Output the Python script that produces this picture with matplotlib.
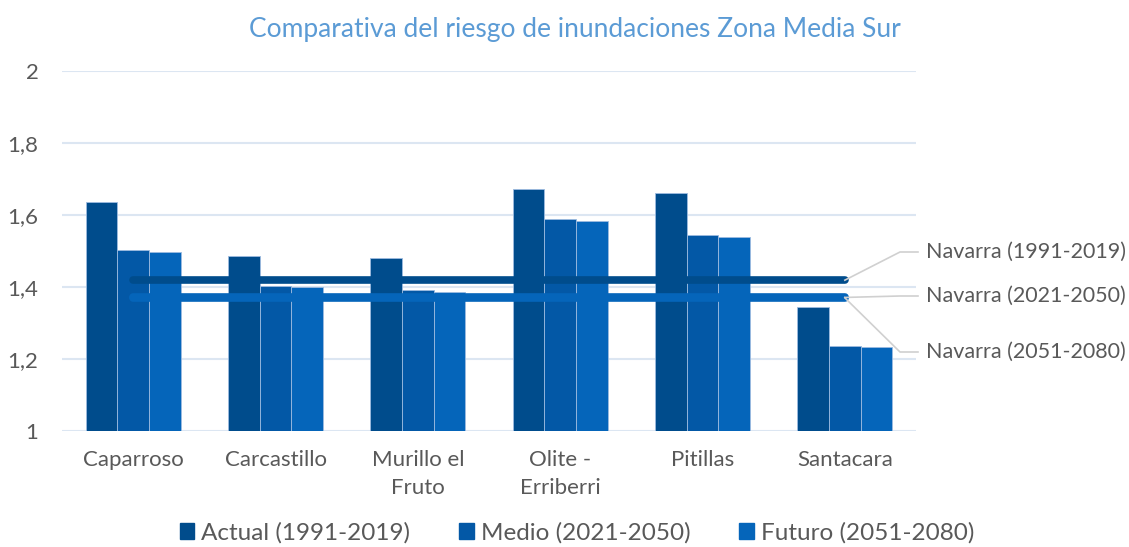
import numpy as np
import matplotlib
matplotlib.use("Agg")
from matplotlib import pyplot as plt
from matplotlib.lines import Line2D

plt.rcParams['font.family'] = ['Lato', 'DejaVu Sans']

municipios = ['Caparroso', 'Carcastillo', 'Murillo el\nFruto', 'Olite -\nErriberri', 'Pitillas', 'Santacara']
actual = [1.636, 1.487, 1.480, 1.672, 1.660, 1.344]
medio = [1.503, 1.403, 1.392, 1.588, 1.544, 1.236]
futuro = [1.497, 1.399, 1.386, 1.584, 1.539, 1.233]
navarra_actual = 1.419
navarra_medio = 1.371
navarra_futuro = 1.370

series_names = ['Actual (1991-2019)', 'Medio (2021-2050)', 'Futuro (2051-2080)']
colores = ['#004C8C', '#0358A6', '#0565BA']
gris = '#595959'
W, H = 1129, 547

fig = plt.figure(figsize=(W/100, H/100), dpi=100)
ax = fig.add_axes([62/W, 1-431/H, 854/W, 360/H])

x = np.arange(len(municipios))
w = 0.222
for i, vals in enumerate([actual, medio, futuro]):
    ax.bar(x + (i-1)*w, np.array(vals) - 1, width=w, bottom=1, color=colores[i],
           edgecolor='#9dbbe0', linewidth=0.6, zorder=2)

ax.set_ylim(1, 2)
ax.set_xlim(-0.5, len(x) - 0.5)

# lineas de referencia Navarra
nav = [(navarra_futuro, '#0565BA', 'Navarra (2051-2080)', 352),
       (navarra_medio, '#0565BA', 'Navarra (2021-2050)', 296),
       (navarra_actual, '#004C8C', 'Navarra (1991-2019)', 252)]
for val, c, lab, ytxt in nav:
    ax.plot(x, [val]*len(x), color=c, lw=5.5, solid_capstyle='round', zorder=3)
    # etiqueta con linea guia
    x0, y0 = ax.transData.transform((x[-1], val))
    fx0, fy0 = x0/W, y0/H
    fy1 = 1 - ytxt/H
    fig.add_artist(Line2D([fx0, 900/W, 918/W], [fy0, fy1, fy1],
                          color='#d0d0d0', lw=1.2, transform=fig.transFigure, zorder=1))
    fig.text(926/W, fy1, lab, ha='left', va='center', fontsize=15.5, color=gris)

ax.set_yticks([1, 1.2, 1.4, 1.6, 1.8, 2])
ax.set_yticklabels(['1', '1,2', '1,4', '1,6', '1,8', '2'])
ax.set_xticks(x)
ax.set_xticklabels(municipios, linespacing=1.45)
ax.tick_params(axis='both', length=0, labelsize=16, colors=gris)
ax.tick_params(axis='y', pad=17)
ax.tick_params(axis='x', pad=14)
ax.grid(axis='y', color='#dce6f2', lw=1.5, zorder=0)
ax.set_axisbelow(True)
for s in ax.spines.values():
    s.set_visible(False)

fig.text(575/W, 1-30/H, 'Comparativa del riesgo de inundaciones Zona Media Sur',
         ha='center', va='center', fontsize=19, color='#5b9bd5')

handles = [plt.Rectangle((0, 0), 1, 1, color=c) for c in colores]
fig.legend(handles, series_names, loc='center', bbox_to_anchor=(577/W, 1-533/H),
           ncol=3, frameon=False, fontsize=17.5, handlelength=0.6, handleheight=0.6,
           handletextpad=0.3, columnspacing=2.0, labelcolor=gris)

fig.savefig('out.png', dpi=100)
